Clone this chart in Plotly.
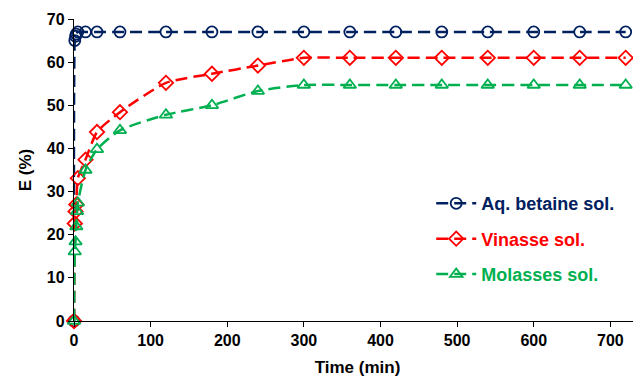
import plotly.graph_objects as go

# Data
t_betaine = [0, 1, 2, 3, 5, 15, 30, 60, 120, 180, 240, 300, 360, 420, 480, 540, 600, 660, 720]
e_betaine = [0, 65, 66, 66.5, 67, 67, 67, 67, 67, 67, 67, 67, 67, 67, 67, 67, 67, 67, 67]

t_vinasse = [0, 1, 2, 3, 5, 15, 30, 60, 120, 180, 240, 300, 360, 420, 480, 540, 600, 660, 720]
e_vinasse = [0, 22.6, 25.4, 27.0, 33.1, 37.4, 43.8, 48.4, 55.2, 57.3, 59.2, 61.0, 61.0, 61.0, 61.0, 61.0, 61.0, 61.0, 61.0]

t_molasses = [0, 1, 2, 3, 4, 5, 15, 30, 60, 120, 180, 240, 300, 360, 420, 480, 540, 600, 660, 720]
e_molasses = [0, 16.1, 18.4, 21.9, 25.4, 27.4, 35.0, 39.8, 44.2, 47.8, 50.0, 53.3, 54.7, 54.7, 54.7, 54.7, 54.7, 54.7, 54.7, 54.7]

names = ["Aq. betaine sol.", "Vinasse sol.", "Molasses sol."]
colors = ["#002060", "#FF0000", "#00B050"]
symbols = ["circle-open", "diamond-open", "triangle-up-open"]

fig = go.Figure()
series = [(t_betaine, e_betaine), (t_vinasse, e_vinasse), (t_molasses, e_molasses)]
for i, ((tx, ey), nm, c, s) in enumerate(zip(series, names, colors, symbols)):
    fig.add_trace(go.Scatter(
        x=tx, y=ey, mode="lines+markers",
        name=f"<span style='color:{c}'>{nm}</span>",
        legendgroup=f"g{i}",
        line=dict(color=c, width=2.5, dash="12px,6px", shape="spline", smoothing=0.6),
        marker=dict(symbol=s, size=11, color=c, line=dict(width=1.8, color=c)),
        cliponaxis=False,
    ))

font = "Liberation Sans, Arial, sans-serif"
# page body has an 8px margin, so the figure is sized to fit the remaining window
fig.update_layout(
    width=633, height=374,
    margin=dict(l=66, r=0, t=11, b=61),
    paper_bgcolor="white", plot_bgcolor="white",
    font=dict(family=font, size=16, color="black"),
    showlegend=True,
    legend=dict(x=0.63, y=0.45, xanchor="left", yanchor="top",
                font=dict(family=font, size=18, color="black", weight="bold"),
                tracegroupgap=9, traceorder="grouped",
                bgcolor="rgba(0,0,0,0)", itemwidth=40),
    xaxis=dict(range=[0, 740], tickvals=[0, 100, 200, 300, 400, 500, 600, 700],
               showline=True, linecolor="black", linewidth=1.3,
               ticks="outside", ticklen=5, tickcolor="black",
               showgrid=False, zeroline=False, automargin=False,
               tickfont=dict(family=font, size=16, weight="bold"),
               title=dict(text="Time (min)", font=dict(family=font, size=17, weight="bold"), standoff=12)),
    yaxis=dict(range=[0, 70], tickvals=[0, 10, 20, 30, 40, 50, 60, 70],
               showline=True, linecolor="black", linewidth=1.3,
               ticks="outside", ticklen=5, tickcolor="black",
               showgrid=False, zeroline=False, automargin=False,
               tickfont=dict(family=font, size=16, weight="bold"),
               title=dict(text="E (%)", font=dict(family=font, size=17, weight="bold"), standoff=10)),
)

fig.write_html("out.html")
